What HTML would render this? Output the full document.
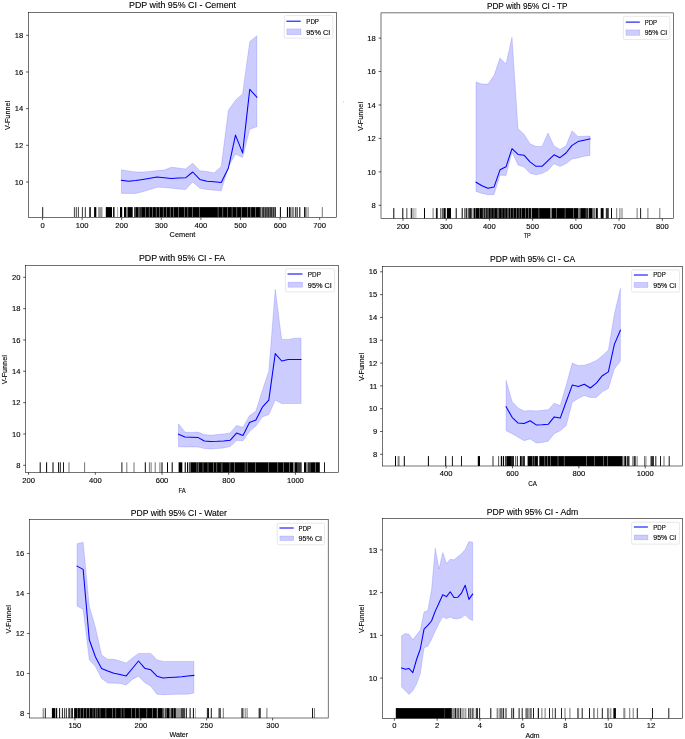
<!DOCTYPE html>
<html><head><meta charset="utf-8"><title>PDP with 95% CI</title>
<style>
html,body{margin:0;padding:0;background:#fff;}
body{width:685px;height:739px;overflow:hidden;}
svg{display:block;}
text{font-family:"Liberation Sans", sans-serif;fill:#000;stroke:#000;stroke-width:0.12px;}
.t{font-size:7.6px;}
.ti{font-size:9.6px;}
.al{font-size:7.6px;}
.lg{font-size:7px;}
</style></head><body>
<div style="will-change:transform"><svg width="685" height="739" viewBox="0 0 685 739">
<rect x="0" y="0" width="685" height="739" fill="#fff"/>
<rect x="342.8" y="100.8" width="1" height="2" fill="#ddd"/>
<g>
<path d="M121.4,169.8 L128.53,171 L135.66,172 L142.79,172 L149.92,171.5 L157.05,170.6 L164.18,170.1 L171.31,167.2 L178.44,168 L185.57,168.9 L192.7,163.3 L199.83,170.7 L206.96,171.5 L214.09,172.9 L221.22,166.6 L228.35,110.2 L235.48,100.3 L242.61,93.7 L249.74,41.6 L256.87,35.7 L256.87,126.8 L249.74,129.2 L242.61,157.6 L235.48,154 L228.35,167 L221.22,190.8 L214.09,190.2 L206.96,189.5 L199.83,188.2 L192.7,182 L185.57,189.6 L178.44,189 L171.31,188.2 L164.18,187.5 L157.05,187.3 L149.92,189.5 L142.79,191.7 L135.66,193.4 L128.53,193.4 L121.4,193.4 Z" fill="#ccccff" stroke="#0000ff" stroke-opacity="0.2" stroke-width="0.7"/>
<path d="M121.4,180.3 L128.53,181.3 L135.66,180.5 L142.79,179.4 L149.92,178.3 L157.05,177.1 L164.18,177.8 L171.31,178.5 L178.44,178.1 L185.57,177.8 L192.7,172 L199.83,179.4 L206.96,181.2 L214.09,181.8 L221.22,182.4 L228.35,168.3 L235.48,135.1 L242.61,152.9 L249.74,89.4 L256.87,97.2" fill="none" stroke="#0000ff" stroke-width="1.05" stroke-linejoin="round" stroke-linecap="square"/>
<rect x="42.2" y="207.1" width="1" height="9.9" fill="#1a1a1a"/>
<rect x="73.9" y="207.1" width="1" height="9.9" fill="#444"/>
<rect x="75.8" y="207.1" width="1" height="9.9" fill="#444"/>
<rect x="77.9" y="207.1" width="1" height="9.9" fill="#444"/>
<rect x="81.9" y="207.1" width="1" height="9.9" fill="#333"/>
<rect x="84.8" y="207.1" width="1" height="9.9" fill="#333"/>
<rect x="89.3" y="207.1" width="1.5" height="9.9" fill="#000"/>
<rect x="94.1" y="207.1" width="2.2" height="9.9" fill="#000"/>
<rect x="98.1" y="207.1" width="4.4" height="9.9" fill="#999"/>
<rect x="105.8" y="207.1" width="6.2" height="9.9" fill="#000"/>
<rect x="113.1" y="207.1" width="1.4" height="9.9" fill="#000"/>
<rect x="117.1" y="207.1" width="1" height="9.9" fill="#aaa"/>
<rect x="120" y="207.1" width="2.2" height="9.9" fill="#000"/>
<rect x="124" y="207.1" width="2.2" height="9.9" fill="#000"/>
<rect x="126.2" y="207.1" width="1.7" height="9.9" fill="#777"/>
<rect x="127.9" y="207.1" width="4.8" height="9.9" fill="#000"/>
<rect x="134" y="207.1" width="2" height="9.9" fill="#444"/>
<rect x="136" y="207.1" width="2.2" height="9.9" fill="#000"/>
<rect x="138.2" y="207.1" width="1.3" height="9.9" fill="#333"/>
<rect x="139.5" y="207.1" width="122.6" height="9.9" fill="#000"/>
<rect x="140.7" y="207.1" width="0.6" height="9.9" fill="#999"/>
<rect x="145.4" y="207.1" width="0.6" height="9.9" fill="#999"/>
<rect x="148.9" y="207.1" width="0.6" height="9.9" fill="#999"/>
<rect x="152.4" y="207.1" width="0.6" height="9.9" fill="#999"/>
<rect x="155.9" y="207.1" width="0.6" height="9.9" fill="#999"/>
<rect x="159.4" y="207.1" width="0.6" height="9.9" fill="#999"/>
<rect x="162.9" y="207.1" width="0.6" height="9.9" fill="#999"/>
<rect x="166.4" y="207.1" width="0.6" height="9.9" fill="#999"/>
<rect x="169.9" y="207.1" width="0.6" height="9.9" fill="#999"/>
<rect x="173.4" y="207.1" width="0.6" height="9.9" fill="#999"/>
<rect x="178.1" y="207.1" width="0.6" height="9.9" fill="#999"/>
<rect x="184" y="207.1" width="0.6" height="9.9" fill="#999"/>
<rect x="187.5" y="207.1" width="0.6" height="9.9" fill="#999"/>
<rect x="192.1" y="207.1" width="0.6" height="9.9" fill="#999"/>
<rect x="199.1" y="207.1" width="0.6" height="9.9" fill="#999"/>
<rect x="217.8" y="207.1" width="0.6" height="9.9" fill="#999"/>
<rect x="222.5" y="207.1" width="0.6" height="9.9" fill="#999"/>
<rect x="227.2" y="207.1" width="0.6" height="9.9" fill="#999"/>
<rect x="231.8" y="207.1" width="0.6" height="9.9" fill="#999"/>
<rect x="236.5" y="207.1" width="0.6" height="9.9" fill="#999"/>
<rect x="241.2" y="207.1" width="0.6" height="9.9" fill="#999"/>
<rect x="247" y="207.1" width="0.6" height="9.9" fill="#999"/>
<rect x="250.5" y="207.1" width="0.6" height="9.9" fill="#999"/>
<rect x="255.2" y="207.1" width="0.6" height="9.9" fill="#999"/>
<rect x="259.9" y="207.1" width="0.6" height="9.9" fill="#999"/>
<rect x="261.05" y="207.1" width="0.7" height="9.9" fill="#ddd"/>
<rect x="262.1" y="207.1" width="13.9" height="9.9" fill="#333"/>
<rect x="264.2" y="207.1" width="0.6" height="9.9" fill="#999"/>
<rect x="266.7" y="207.1" width="0.6" height="9.9" fill="#999"/>
<rect x="269.5" y="207.1" width="0.6" height="9.9" fill="#999"/>
<rect x="272" y="207.1" width="0.6" height="9.9" fill="#999"/>
<rect x="274.3" y="207.1" width="0.6" height="9.9" fill="#999"/>
<rect x="279.9" y="207.1" width="1" height="9.9" fill="#000"/>
<rect x="286.9" y="207.1" width="1.2" height="9.9" fill="#000"/>
<rect x="289.1" y="207.1" width="1.5" height="9.9" fill="#000"/>
<rect x="291.3" y="207.1" width="2.9" height="9.9" fill="#888"/>
<rect x="295.2" y="207.1" width="1" height="9.9" fill="#1a1a1a"/>
<rect x="296.7" y="207.1" width="1" height="9.9" fill="#1a1a1a"/>
<rect x="299.3" y="207.1" width="1" height="9.9" fill="#000"/>
<rect x="304" y="207.1" width="1" height="9.9" fill="#1a1a1a"/>
<rect x="305.4" y="207.1" width="1" height="9.9" fill="#1a1a1a"/>
<rect x="307.6" y="207.1" width="1" height="9.9" fill="#777"/>
<rect x="321.8" y="207.1" width="1" height="9.9" fill="#777"/>
<rect x="28.5" y="12.5" width="308" height="205" fill="none" stroke="#000" stroke-width="0.55"/>
<line x1="42.5" y1="217.5" x2="42.5" y2="219.9" stroke="#000" stroke-width="0.65"/>
<text x="42.5" y="227.7" text-anchor="middle" class="t">0</text>
<line x1="82.1" y1="217.5" x2="82.1" y2="219.9" stroke="#000" stroke-width="0.65"/>
<text x="82.1" y="227.7" text-anchor="middle" class="t">100</text>
<line x1="121.7" y1="217.5" x2="121.7" y2="219.9" stroke="#000" stroke-width="0.65"/>
<text x="121.7" y="227.7" text-anchor="middle" class="t">200</text>
<line x1="161.3" y1="217.5" x2="161.3" y2="219.9" stroke="#000" stroke-width="0.65"/>
<text x="161.3" y="227.7" text-anchor="middle" class="t">300</text>
<line x1="200.9" y1="217.5" x2="200.9" y2="219.9" stroke="#000" stroke-width="0.65"/>
<text x="200.9" y="227.7" text-anchor="middle" class="t">400</text>
<line x1="240.5" y1="217.5" x2="240.5" y2="219.9" stroke="#000" stroke-width="0.65"/>
<text x="240.5" y="227.7" text-anchor="middle" class="t">500</text>
<line x1="280.1" y1="217.5" x2="280.1" y2="219.9" stroke="#000" stroke-width="0.65"/>
<text x="280.1" y="227.7" text-anchor="middle" class="t">600</text>
<line x1="319.7" y1="217.5" x2="319.7" y2="219.9" stroke="#000" stroke-width="0.65"/>
<text x="319.7" y="227.7" text-anchor="middle" class="t">700</text>
<line x1="26.1" y1="182" x2="28.5" y2="182" stroke="#000" stroke-width="0.65"/>
<text x="23.3" y="184.65" text-anchor="end" class="t">10</text>
<line x1="26.1" y1="145.32" x2="28.5" y2="145.32" stroke="#000" stroke-width="0.65"/>
<text x="23.3" y="147.97" text-anchor="end" class="t">12</text>
<line x1="26.1" y1="108.65" x2="28.5" y2="108.65" stroke="#000" stroke-width="0.65"/>
<text x="23.3" y="111.3" text-anchor="end" class="t">14</text>
<line x1="26.1" y1="71.98" x2="28.5" y2="71.98" stroke="#000" stroke-width="0.65"/>
<text x="23.3" y="74.63" text-anchor="end" class="t">16</text>
<line x1="26.1" y1="35.3" x2="28.5" y2="35.3" stroke="#000" stroke-width="0.65"/>
<text x="23.3" y="37.95" text-anchor="end" class="t">18</text>
<text x="182.5" y="8" text-anchor="middle" class="ti" textLength="107" lengthAdjust="spacingAndGlyphs">PDP with 95% CI - Cement</text>
<text x="182.5" y="236.9" text-anchor="middle" class="al" textLength="25.8" lengthAdjust="spacingAndGlyphs">Cement</text>
<text transform="translate(10,115.4) rotate(-90)" x="0" y="0" text-anchor="middle" class="al" textLength="29" lengthAdjust="spacingAndGlyphs">V-Funnel</text>
<rect x="284.3" y="15.6" width="48.5" height="22.5" rx="1.5" fill="#fff" fill-opacity="0.8" stroke="#d6d6d6" stroke-width="0.6"/>
<line x1="286.3" y1="21.2" x2="300.7" y2="21.2" stroke="#0000ff" stroke-width="1.05"/>
<text x="306.3" y="23.8" class="lg" textLength="12.7" lengthAdjust="spacingAndGlyphs">PDP</text>
<rect x="286.9" y="28.9" width="14" height="5.8" fill="#ccccff" stroke="#0000ff" stroke-opacity="0.2" stroke-width="0.6"/>
<text x="306.3" y="34.6" class="lg" textLength="24" lengthAdjust="spacingAndGlyphs">95% CI</text>
</g>
<g>
<path d="M476,82 L482,84.1 L488,84.1 L494,75.6 L500,58 L506,64 L512,37.2 L518,128.6 L524,134.2 L530,143.8 L536,146.5 L542,146.5 L548,133 L554,146 L560,149.4 L566,145.8 L572,130.8 L578,136.5 L584,136.2 L590,136 L590,155.5 L584,156.3 L578,157.9 L572,159 L566,163.8 L560,166.5 L554,163.8 L548,170.3 L542,173.6 L536,174.7 L530,173.3 L524,167.1 L518,164.9 L512,152 L506,175.4 L500,175.2 L494,194.7 L488,194.7 L482,193.4 L476,191.4 Z" fill="#ccccff" stroke="#0000ff" stroke-opacity="0.2" stroke-width="0.7"/>
<path d="M476,182.2 L482,185.8 L488,188.2 L494,187.1 L500,169.8 L506,166.8 L512,148.7 L518,154.4 L524,155.2 L530,161.9 L536,166.3 L542,166.3 L548,160.6 L554,154.8 L560,157.7 L566,153 L572,145.4 L578,141.6 L584,140.3 L590,138.9" fill="none" stroke="#0000ff" stroke-width="1.05" stroke-linejoin="round" stroke-linecap="square"/>
<rect x="393.3" y="208.1" width="1" height="10.3" fill="#000"/>
<rect x="402.3" y="208.1" width="1" height="10.3" fill="#000"/>
<rect x="406.1" y="208.1" width="1" height="10.3" fill="#777"/>
<rect x="406.9" y="208.1" width="1" height="10.3" fill="#bbb"/>
<rect x="410.8" y="208.1" width="1" height="10.3" fill="#000"/>
<rect x="412.5" y="208.1" width="1" height="10.3" fill="#777"/>
<rect x="414.3" y="208.1" width="1" height="10.3" fill="#bbb"/>
<rect x="415.4" y="208.1" width="1" height="10.3" fill="#bbb"/>
<rect x="424" y="208.1" width="1" height="10.3" fill="#000"/>
<rect x="432.6" y="208.1" width="1" height="10.3" fill="#777"/>
<rect x="435.9" y="208.1" width="1" height="10.3" fill="#000"/>
<rect x="436.7" y="208.1" width="1" height="10.3" fill="#1a1a1a"/>
<rect x="440" y="208.1" width="1" height="10.3" fill="#777"/>
<rect x="441.7" y="208.1" width="1" height="10.3" fill="#1a1a1a"/>
<rect x="443.4" y="208.1" width="2.3" height="10.3" fill="#000"/>
<rect x="446.9" y="208.1" width="4.1" height="10.3" fill="#000"/>
<rect x="455.7" y="208.1" width="1" height="10.3" fill="#000"/>
<rect x="461.7" y="208.1" width="1" height="10.3" fill="#000"/>
<rect x="464.4" y="208.1" width="1" height="10.3" fill="#1a1a1a"/>
<rect x="465.9" y="208.1" width="1" height="10.3" fill="#1a1a1a"/>
<rect x="467.7" y="208.1" width="1" height="10.3" fill="#1a1a1a"/>
<rect x="469.1" y="208.1" width="1" height="10.3" fill="#1a1a1a"/>
<rect x="470.1" y="208.1" width="1" height="10.3" fill="#000"/>
<rect x="471.3" y="208.1" width="1" height="10.3" fill="#1a1a1a"/>
<rect x="473.5" y="208.1" width="77" height="10.3" fill="#000"/>
<rect x="475" y="208.1" width="0.6" height="10.3" fill="#999"/>
<rect x="479" y="208.1" width="0.6" height="10.3" fill="#999"/>
<rect x="481.7" y="208.1" width="5.8" height="10.3" fill="#222"/>
<rect x="483.2" y="208.1" width="0.6" height="10.3" fill="#999"/>
<rect x="485.2" y="208.1" width="0.6" height="10.3" fill="#999"/>
<rect x="487.5" y="208.1" width="1.2" height="10.3" fill="#666"/>
<rect x="490.7" y="208.1" width="0.6" height="10.3" fill="#999"/>
<rect x="493.7" y="208.1" width="0.6" height="10.3" fill="#999"/>
<rect x="496.9" y="208.1" width="2.3" height="10.3" fill="#555"/>
<rect x="501.7" y="208.1" width="0.6" height="10.3" fill="#999"/>
<rect x="504.7" y="208.1" width="0.6" height="10.3" fill="#999"/>
<rect x="507.65" y="208.1" width="0.7" height="10.3" fill="#ddd"/>
<rect x="510" y="208.1" width="0.6" height="10.3" fill="#999"/>
<rect x="512.9" y="208.1" width="0.6" height="10.3" fill="#999"/>
<rect x="516.4" y="208.1" width="0.6" height="10.3" fill="#999"/>
<rect x="518.8" y="208.1" width="0.6" height="10.3" fill="#999"/>
<rect x="521.1" y="208.1" width="0.6" height="10.3" fill="#999"/>
<rect x="525.2" y="208.1" width="0.6" height="10.3" fill="#999"/>
<rect x="528.1" y="208.1" width="0.6" height="10.3" fill="#999"/>
<rect x="530.95" y="208.1" width="0.7" height="10.3" fill="#ddd"/>
<rect x="538.6" y="208.1" width="0.6" height="10.3" fill="#999"/>
<rect x="550.5" y="208.1" width="1.2" height="10.3" fill="#888"/>
<rect x="551.7" y="208.1" width="26.8" height="10.3" fill="#000"/>
<rect x="556.1" y="208.1" width="0.6" height="10.3" fill="#999"/>
<rect x="564.8" y="208.1" width="0.6" height="10.3" fill="#999"/>
<rect x="573" y="208.1" width="0.6" height="10.3" fill="#999"/>
<rect x="578.5" y="208.1" width="1.8" height="10.3" fill="#777"/>
<rect x="580.3" y="208.1" width="7.6" height="10.3" fill="#000"/>
<rect x="585.8" y="208.1" width="0.6" height="10.3" fill="#999"/>
<rect x="587.9" y="208.1" width="1.1" height="10.3" fill="#999"/>
<rect x="589" y="208.1" width="3.6" height="10.3" fill="#000"/>
<rect x="593.1" y="208.1" width="2.4" height="10.3" fill="#777"/>
<rect x="596" y="208.1" width="1.8" height="10.3" fill="#000"/>
<rect x="600.7" y="208.1" width="2.9" height="10.3" fill="#000"/>
<rect x="605.8" y="208.1" width="3" height="10.3" fill="#333"/>
<rect x="611" y="208.1" width="1" height="10.3" fill="#000"/>
<rect x="616.2" y="208.1" width="1" height="10.3" fill="#777"/>
<rect x="619.4" y="208.1" width="1" height="10.3" fill="#777"/>
<rect x="621.5" y="208.1" width="1" height="10.3" fill="#777"/>
<rect x="636.6" y="208.1" width="1" height="10.3" fill="#777"/>
<rect x="640.1" y="208.1" width="1" height="10.3" fill="#1a1a1a"/>
<rect x="647.4" y="208.1" width="1" height="10.3" fill="#777"/>
<rect x="659.3" y="208.1" width="1" height="10.3" fill="#777"/>
<rect x="381" y="12.9" width="292.5" height="205.5" fill="none" stroke="#000" stroke-width="0.55"/>
<line x1="403" y1="218.4" x2="403" y2="220.8" stroke="#000" stroke-width="0.65"/>
<text x="403" y="228.5" text-anchor="middle" class="t">200</text>
<line x1="446.22" y1="218.4" x2="446.22" y2="220.8" stroke="#000" stroke-width="0.65"/>
<text x="446.22" y="228.5" text-anchor="middle" class="t">300</text>
<line x1="489.43" y1="218.4" x2="489.43" y2="220.8" stroke="#000" stroke-width="0.65"/>
<text x="489.43" y="228.5" text-anchor="middle" class="t">400</text>
<line x1="532.65" y1="218.4" x2="532.65" y2="220.8" stroke="#000" stroke-width="0.65"/>
<text x="532.65" y="228.5" text-anchor="middle" class="t">500</text>
<line x1="575.87" y1="218.4" x2="575.87" y2="220.8" stroke="#000" stroke-width="0.65"/>
<text x="575.87" y="228.5" text-anchor="middle" class="t">600</text>
<line x1="619.08" y1="218.4" x2="619.08" y2="220.8" stroke="#000" stroke-width="0.65"/>
<text x="619.08" y="228.5" text-anchor="middle" class="t">700</text>
<line x1="662.3" y1="218.4" x2="662.3" y2="220.8" stroke="#000" stroke-width="0.65"/>
<text x="662.3" y="228.5" text-anchor="middle" class="t">800</text>
<line x1="378.6" y1="205.3" x2="381" y2="205.3" stroke="#000" stroke-width="0.65"/>
<text x="375.8" y="207.95" text-anchor="end" class="t">8</text>
<line x1="378.6" y1="171.86" x2="381" y2="171.86" stroke="#000" stroke-width="0.65"/>
<text x="375.8" y="174.51" text-anchor="end" class="t">10</text>
<line x1="378.6" y1="138.42" x2="381" y2="138.42" stroke="#000" stroke-width="0.65"/>
<text x="375.8" y="141.07" text-anchor="end" class="t">12</text>
<line x1="378.6" y1="104.98" x2="381" y2="104.98" stroke="#000" stroke-width="0.65"/>
<text x="375.8" y="107.63" text-anchor="end" class="t">14</text>
<line x1="378.6" y1="71.54" x2="381" y2="71.54" stroke="#000" stroke-width="0.65"/>
<text x="375.8" y="74.19" text-anchor="end" class="t">16</text>
<line x1="378.6" y1="38.1" x2="381" y2="38.1" stroke="#000" stroke-width="0.65"/>
<text x="375.8" y="40.75" text-anchor="end" class="t">18</text>
<text x="527.25" y="8.8" text-anchor="middle" class="ti" textLength="80.6" lengthAdjust="spacingAndGlyphs">PDP with 95% CI - TP</text>
<text x="527.25" y="238.3" text-anchor="middle" class="al" textLength="7.2" lengthAdjust="spacingAndGlyphs">TP</text>
<text transform="translate(362.8,116.5) rotate(-90)" x="0" y="0" text-anchor="middle" class="al" textLength="29" lengthAdjust="spacingAndGlyphs">V-Funnel</text>
<rect x="623.3" y="16.3" width="46.5" height="23.1" rx="1.5" fill="#fff" fill-opacity="0.8" stroke="#d6d6d6" stroke-width="0.6"/>
<line x1="625.8" y1="22.1" x2="639.8" y2="22.1" stroke="#0000ff" stroke-width="1.05"/>
<text x="644.7" y="24.5" class="lg" textLength="12.3" lengthAdjust="spacingAndGlyphs">PDP</text>
<rect x="626" y="29.9" width="13.8" height="5.4" fill="#ccccff" stroke="#0000ff" stroke-opacity="0.2" stroke-width="0.6"/>
<text x="644.7" y="35.1" class="lg" textLength="22.5" lengthAdjust="spacingAndGlyphs">95% CI</text>
</g>
<g>
<path d="M178.5,423.8 L184.95,432.1 L191.4,432.5 L197.85,432.1 L204.3,434.6 L210.75,435.2 L217.2,434.6 L223.65,433.9 L230.1,433.1 L236.55,425.4 L243,427.2 L249.45,415.7 L255.9,411.1 L262.35,390.4 L268.8,370.9 L275.25,289.2 L281.7,339.4 L288.15,339.4 L294.6,338.2 L301.05,338.2 L301.05,403.5 L294.6,403.5 L288.15,403.5 L281.7,403.5 L275.25,400.1 L268.8,414.6 L262.35,416.9 L255.9,426.1 L249.45,431.5 L243,440.7 L236.55,440.6 L230.1,446.5 L223.65,448 L217.2,448.6 L210.75,448.9 L204.3,448.6 L197.85,447 L191.4,447 L184.95,447 L178.5,446.7 Z" fill="#ccccff" stroke="#0000ff" stroke-opacity="0.2" stroke-width="0.7"/>
<path d="M178.5,434.3 L184.95,437 L191.4,437.2 L197.85,437.4 L204.3,441 L210.75,441.5 L217.2,441.3 L223.65,440.9 L230.1,440.3 L236.55,433.1 L243,435.4 L249.45,422.5 L255.9,419.9 L262.35,407.2 L268.8,400.1 L275.25,353.6 L281.7,361 L288.15,359.4 L294.6,359.4 L301.05,359.4" fill="none" stroke="#0000ff" stroke-width="1.05" stroke-linejoin="round" stroke-linecap="square"/>
<rect x="39.7" y="462.3" width="1" height="10.1" fill="#000"/>
<rect x="46.1" y="462.3" width="1" height="10.1" fill="#000"/>
<rect x="52.5" y="462.3" width="1" height="10.1" fill="#000"/>
<rect x="58" y="462.3" width="1" height="10.1" fill="#1a1a1a"/>
<rect x="59.8" y="462.3" width="1" height="10.1" fill="#1a1a1a"/>
<rect x="63" y="462.3" width="1" height="10.1" fill="#1a1a1a"/>
<rect x="68.5" y="462.3" width="1" height="10.1" fill="#777"/>
<rect x="84.1" y="462.3" width="1" height="10.1" fill="#777"/>
<rect x="121.4" y="462.3" width="1" height="10.1" fill="#1a1a1a"/>
<rect x="126.3" y="462.3" width="1" height="10.1" fill="#777"/>
<rect x="133.5" y="462.3" width="1" height="10.1" fill="#777"/>
<rect x="144.8" y="462.3" width="1" height="10.1" fill="#000"/>
<rect x="148.9" y="462.3" width="1" height="10.1" fill="#777"/>
<rect x="150.6" y="462.3" width="1" height="10.1" fill="#777"/>
<rect x="154.7" y="462.3" width="1" height="10.1" fill="#777"/>
<rect x="159.4" y="462.3" width="1" height="10.1" fill="#777"/>
<rect x="161.5" y="462.3" width="1" height="10.1" fill="#000"/>
<rect x="167" y="462.3" width="1" height="10.1" fill="#000"/>
<rect x="171.7" y="462.3" width="1" height="10.1" fill="#000"/>
<rect x="178.6" y="462.3" width="3.7" height="10.1" fill="#000"/>
<rect x="184.7" y="462.3" width="1.1" height="10.1" fill="#000"/>
<rect x="187" y="462.3" width="1.2" height="10.1" fill="#000"/>
<rect x="189.3" y="462.3" width="104.2" height="10.1" fill="#000"/>
<rect x="190.3" y="462.3" width="0.6" height="10.1" fill="#999"/>
<rect x="196.6" y="462.3" width="0.6" height="10.1" fill="#999"/>
<rect x="198.1" y="462.3" width="0.6" height="10.1" fill="#999"/>
<rect x="202.7" y="462.3" width="0.6" height="10.1" fill="#999"/>
<rect x="207.7" y="462.3" width="0.6" height="10.1" fill="#999"/>
<rect x="213.2" y="462.3" width="0.6" height="10.1" fill="#999"/>
<rect x="216.5" y="462.3" width="0.6" height="10.1" fill="#999"/>
<rect x="229.6" y="462.3" width="0.6" height="10.1" fill="#999"/>
<rect x="234.3" y="462.3" width="0.6" height="10.1" fill="#999"/>
<rect x="244.8" y="462.3" width="0.6" height="10.1" fill="#999"/>
<rect x="255.3" y="462.3" width="0.6" height="10.1" fill="#999"/>
<rect x="268.2" y="462.3" width="0.6" height="10.1" fill="#999"/>
<rect x="277.5" y="462.3" width="0.6" height="10.1" fill="#999"/>
<rect x="289.2" y="462.3" width="0.6" height="10.1" fill="#999"/>
<rect x="220.9" y="462.3" width="1.7" height="10.1" fill="#444"/>
<rect x="246.9" y="462.3" width="0.6" height="10.1" fill="#999"/>
<rect x="283.3" y="462.3" width="0.6" height="10.1" fill="#999"/>
<rect x="293.5" y="462.3" width="1.2" height="10.1" fill="#888"/>
<rect x="294.7" y="462.3" width="2.3" height="10.1" fill="#000"/>
<rect x="297" y="462.3" width="4.7" height="10.1" fill="#333"/>
<rect x="304" y="462.3" width="2.4" height="10.1" fill="#000"/>
<rect x="306.4" y="462.3" width="1.2" height="10.1" fill="#888"/>
<rect x="307.6" y="462.3" width="3.4" height="10.1" fill="#333"/>
<rect x="311" y="462.3" width="8.8" height="10.1" fill="#000"/>
<rect x="315.4" y="462.3" width="0.6" height="10.1" fill="#999"/>
<rect x="324" y="462.3" width="1" height="10.1" fill="#1a1a1a"/>
<rect x="25.6" y="265.5" width="312.9" height="206.9" fill="none" stroke="#000" stroke-width="0.55"/>
<line x1="28.6" y1="472.4" x2="28.6" y2="474.8" stroke="#000" stroke-width="0.65"/>
<text x="28.6" y="482.7" text-anchor="middle" class="t">200</text>
<line x1="95.3" y1="472.4" x2="95.3" y2="474.8" stroke="#000" stroke-width="0.65"/>
<text x="95.3" y="482.7" text-anchor="middle" class="t">400</text>
<line x1="162" y1="472.4" x2="162" y2="474.8" stroke="#000" stroke-width="0.65"/>
<text x="162" y="482.7" text-anchor="middle" class="t">600</text>
<line x1="228.7" y1="472.4" x2="228.7" y2="474.8" stroke="#000" stroke-width="0.65"/>
<text x="228.7" y="482.7" text-anchor="middle" class="t">800</text>
<line x1="295.4" y1="472.4" x2="295.4" y2="474.8" stroke="#000" stroke-width="0.65"/>
<text x="295.4" y="482.7" text-anchor="middle" class="t">1000</text>
<line x1="23.2" y1="465.3" x2="25.6" y2="465.3" stroke="#000" stroke-width="0.65"/>
<text x="20.4" y="467.95" text-anchor="end" class="t">8</text>
<line x1="23.2" y1="433.97" x2="25.6" y2="433.97" stroke="#000" stroke-width="0.65"/>
<text x="20.4" y="436.62" text-anchor="end" class="t">10</text>
<line x1="23.2" y1="402.63" x2="25.6" y2="402.63" stroke="#000" stroke-width="0.65"/>
<text x="20.4" y="405.28" text-anchor="end" class="t">12</text>
<line x1="23.2" y1="371.3" x2="25.6" y2="371.3" stroke="#000" stroke-width="0.65"/>
<text x="20.4" y="373.95" text-anchor="end" class="t">14</text>
<line x1="23.2" y1="339.97" x2="25.6" y2="339.97" stroke="#000" stroke-width="0.65"/>
<text x="20.4" y="342.62" text-anchor="end" class="t">16</text>
<line x1="23.2" y1="308.63" x2="25.6" y2="308.63" stroke="#000" stroke-width="0.65"/>
<text x="20.4" y="311.28" text-anchor="end" class="t">18</text>
<line x1="23.2" y1="277.3" x2="25.6" y2="277.3" stroke="#000" stroke-width="0.65"/>
<text x="20.4" y="279.95" text-anchor="end" class="t">20</text>
<text x="182.05" y="260.8" text-anchor="middle" class="ti" textLength="86.3" lengthAdjust="spacingAndGlyphs">PDP with 95% CI - FA</text>
<text x="182.05" y="492.9" text-anchor="middle" class="al" textLength="7.2" lengthAdjust="spacingAndGlyphs">FA</text>
<text transform="translate(7,369.7) rotate(-90)" x="0" y="0" text-anchor="middle" class="al" textLength="29" lengthAdjust="spacingAndGlyphs">V-Funnel</text>
<rect x="285.3" y="268.8" width="49.3" height="23" rx="1.5" fill="#fff" fill-opacity="0.8" stroke="#d6d6d6" stroke-width="0.6"/>
<line x1="287.5" y1="274" x2="302.5" y2="274" stroke="#0000ff" stroke-width="1.05"/>
<text x="307.8" y="276.6" class="lg" textLength="13.1" lengthAdjust="spacingAndGlyphs">PDP</text>
<rect x="288" y="282.2" width="14.5" height="5" fill="#ccccff" stroke="#0000ff" stroke-opacity="0.2" stroke-width="0.6"/>
<text x="307.8" y="287.6" class="lg" textLength="24.1" lengthAdjust="spacingAndGlyphs">95% CI</text>
</g>
<g>
<path d="M506.1,380.5 L512.12,401.5 L518.13,408 L524.14,410.9 L530.16,410.6 L536.18,410.9 L542.19,410.3 L548.21,409.7 L554.22,403.3 L560.24,405.6 L566.25,385 L572.26,363 L578.28,365.6 L584.3,365.2 L590.31,363.3 L596.33,360.5 L602.34,355.8 L608.36,350.1 L614.37,314.1 L620.38,288.5 L620.38,361.1 L614.37,369 L608.36,388.4 L602.34,391.8 L596.33,397.4 L590.31,397.4 L584.3,395.6 L578.28,398.4 L572.26,402.2 L566.25,425.5 L560.24,430.7 L554.22,433.7 L548.21,441.2 L542.19,442.4 L536.18,443 L530.16,438.9 L524.14,440.7 L518.13,437.2 L512.12,433.7 L506.1,430.7 Z" fill="#ccccff" stroke="#0000ff" stroke-opacity="0.2" stroke-width="0.7"/>
<path d="M506.1,406.8 L512.12,417.3 L518.13,423.1 L524.14,423.5 L530.16,420.8 L536.18,424.9 L542.19,424.7 L548.21,424.3 L554.22,416.9 L560.24,418.1 L566.25,401.5 L572.26,385.1 L578.28,386.5 L584.3,384.2 L590.31,388 L596.33,383.2 L602.34,375.7 L608.36,371.9 L614.37,344.4 L620.38,330.2" fill="none" stroke="#0000ff" stroke-width="1.05" stroke-linejoin="round" stroke-linecap="square"/>
<rect x="395" y="456.1" width="1" height="9.9" fill="#000"/>
<rect x="397.6" y="456.1" width="2" height="9.9" fill="#888"/>
<rect x="403.8" y="456.1" width="1" height="9.9" fill="#000"/>
<rect x="427.9" y="456.1" width="1" height="9.9" fill="#000"/>
<rect x="445.2" y="456.1" width="1" height="9.9" fill="#000"/>
<rect x="451.9" y="456.1" width="1" height="9.9" fill="#1a1a1a"/>
<rect x="461" y="456.1" width="1" height="9.9" fill="#1a1a1a"/>
<rect x="477.8" y="456.1" width="2.2" height="9.9" fill="#000"/>
<rect x="492.5" y="456.1" width="1" height="9.9" fill="#333"/>
<rect x="498.1" y="456.1" width="1" height="9.9" fill="#555"/>
<rect x="500.8" y="456.1" width="1.2" height="9.9" fill="#000"/>
<rect x="502.8" y="456.1" width="1.2" height="9.9" fill="#000"/>
<rect x="504.9" y="456.1" width="2" height="9.9" fill="#444"/>
<rect x="506.9" y="456.1" width="4.1" height="9.9" fill="#000"/>
<rect x="511" y="456.1" width="3" height="9.9" fill="#222"/>
<rect x="515" y="456.1" width="1" height="9.9" fill="#666"/>
<rect x="516.8" y="456.1" width="1" height="9.9" fill="#111"/>
<rect x="519.9" y="456.1" width="1.9" height="9.9" fill="#000"/>
<rect x="521.8" y="456.1" width="1.4" height="9.9" fill="#666"/>
<rect x="523.2" y="456.1" width="1.6" height="9.9" fill="#000"/>
<rect x="527.6" y="456.1" width="95.1" height="9.9" fill="#000"/>
<rect x="532.1" y="456.1" width="0.6" height="9.9" fill="#999"/>
<rect x="533.9" y="456.1" width="0.6" height="9.9" fill="#999"/>
<rect x="537.9" y="456.1" width="1.4" height="9.9" fill="#eee"/>
<rect x="544.5" y="456.1" width="0.6" height="9.9" fill="#999"/>
<rect x="547.1" y="456.1" width="0.6" height="9.9" fill="#999"/>
<rect x="550.4" y="456.1" width="0.6" height="9.9" fill="#999"/>
<rect x="557.7" y="456.1" width="0.6" height="9.9" fill="#999"/>
<rect x="563.9" y="456.1" width="0.6" height="9.9" fill="#999"/>
<rect x="586.2" y="456.1" width="0.6" height="9.9" fill="#999"/>
<rect x="594.3" y="456.1" width="0.6" height="9.9" fill="#999"/>
<rect x="603.1" y="456.1" width="0.6" height="9.9" fill="#999"/>
<rect x="607.2" y="456.1" width="0.6" height="9.9" fill="#999"/>
<rect x="622.6" y="456.1" width="1" height="9.9" fill="#777"/>
<rect x="624.3" y="456.1" width="1.7" height="9.9" fill="#000"/>
<rect x="626.6" y="456.1" width="2.9" height="9.9" fill="#333"/>
<rect x="632.4" y="456.1" width="1.2" height="9.9" fill="#555"/>
<rect x="634.2" y="456.1" width="1.4" height="9.9" fill="#000"/>
<rect x="636.6" y="456.1" width="1" height="9.9" fill="#777"/>
<rect x="644" y="456.1" width="1" height="9.9" fill="#777"/>
<rect x="645.4" y="456.1" width="1" height="9.9" fill="#777"/>
<rect x="650.5" y="456.1" width="3.5" height="9.9" fill="#333"/>
<rect x="655.3" y="456.1" width="1" height="9.9" fill="#1a1a1a"/>
<rect x="660" y="456.1" width="1" height="9.9" fill="#1a1a1a"/>
<rect x="663.4" y="456.1" width="1.2" height="9.9" fill="#888"/>
<rect x="668.7" y="456.1" width="1" height="9.9" fill="#1a1a1a"/>
<rect x="382.5" y="266.6" width="300.2" height="199.4" fill="none" stroke="#000" stroke-width="0.55"/>
<line x1="446.1" y1="466" x2="446.1" y2="468.4" stroke="#000" stroke-width="0.65"/>
<text x="446.1" y="475.9" text-anchor="middle" class="t">400</text>
<line x1="512.47" y1="466" x2="512.47" y2="468.4" stroke="#000" stroke-width="0.65"/>
<text x="512.47" y="475.9" text-anchor="middle" class="t">600</text>
<line x1="578.83" y1="466" x2="578.83" y2="468.4" stroke="#000" stroke-width="0.65"/>
<text x="578.83" y="475.9" text-anchor="middle" class="t">800</text>
<line x1="645.2" y1="466" x2="645.2" y2="468.4" stroke="#000" stroke-width="0.65"/>
<text x="645.2" y="475.9" text-anchor="middle" class="t">1000</text>
<line x1="380.1" y1="454.3" x2="382.5" y2="454.3" stroke="#000" stroke-width="0.65"/>
<text x="377.3" y="456.95" text-anchor="end" class="t">8</text>
<line x1="380.1" y1="431.49" x2="382.5" y2="431.49" stroke="#000" stroke-width="0.65"/>
<text x="377.3" y="434.14" text-anchor="end" class="t">9</text>
<line x1="380.1" y1="408.68" x2="382.5" y2="408.68" stroke="#000" stroke-width="0.65"/>
<text x="377.3" y="411.32" text-anchor="end" class="t">10</text>
<line x1="380.1" y1="385.86" x2="382.5" y2="385.86" stroke="#000" stroke-width="0.65"/>
<text x="377.3" y="388.51" text-anchor="end" class="t">11</text>
<line x1="380.1" y1="363.05" x2="382.5" y2="363.05" stroke="#000" stroke-width="0.65"/>
<text x="377.3" y="365.7" text-anchor="end" class="t">12</text>
<line x1="380.1" y1="340.24" x2="382.5" y2="340.24" stroke="#000" stroke-width="0.65"/>
<text x="377.3" y="342.89" text-anchor="end" class="t">13</text>
<line x1="380.1" y1="317.43" x2="382.5" y2="317.43" stroke="#000" stroke-width="0.65"/>
<text x="377.3" y="320.07" text-anchor="end" class="t">14</text>
<line x1="380.1" y1="294.61" x2="382.5" y2="294.61" stroke="#000" stroke-width="0.65"/>
<text x="377.3" y="297.26" text-anchor="end" class="t">15</text>
<line x1="380.1" y1="271.8" x2="382.5" y2="271.8" stroke="#000" stroke-width="0.65"/>
<text x="377.3" y="274.45" text-anchor="end" class="t">16</text>
<text x="532.6" y="262" text-anchor="middle" class="ti" textLength="85" lengthAdjust="spacingAndGlyphs">PDP with 95% CI - CA</text>
<text x="532.6" y="485.8" text-anchor="middle" class="al" textLength="8.7" lengthAdjust="spacingAndGlyphs">CA</text>
<text transform="translate(363.7,367) rotate(-90)" x="0" y="0" text-anchor="middle" class="al" textLength="28" lengthAdjust="spacingAndGlyphs">V-Funnel</text>
<rect x="631.6" y="270" width="48" height="22.1" rx="1.5" fill="#fff" fill-opacity="0.8" stroke="#d6d6d6" stroke-width="0.6"/>
<line x1="633.9" y1="275" x2="647.9" y2="275" stroke="#0000ff" stroke-width="1.05"/>
<text x="653.3" y="277.3" class="lg" textLength="12.5" lengthAdjust="spacingAndGlyphs">PDP</text>
<rect x="634.2" y="282.4" width="13.7" height="5.1" fill="#ccccff" stroke="#0000ff" stroke-opacity="0.2" stroke-width="0.6"/>
<text x="653.3" y="287.8" class="lg" textLength="23" lengthAdjust="spacingAndGlyphs">95% CI</text>
</g>
<g>
<path d="M77,543.8 L83.15,542.3 L89.3,606 L95.45,627.4 L101.6,655 L107.75,659.2 L113.9,659.3 L120.05,661 L126.2,663 L132.35,658 L138.5,653.4 L144.65,653.4 L150.8,653.4 L156.95,659.8 L163.1,661.4 L169.25,661.4 L175.4,661.4 L181.55,661.4 L187.7,661.4 L193.85,661.4 L193.85,693.1 L187.7,694.2 L181.55,694.2 L175.4,694.2 L169.25,694.5 L163.1,694.7 L156.95,694.2 L150.8,686.2 L144.65,682.6 L138.5,676.2 L132.35,679.4 L126.2,685 L120.05,683.4 L113.9,683.2 L107.75,683 L101.6,678.5 L95.45,666.6 L89.3,659.8 L83.15,609.4 L77,606 Z" fill="#ccccff" stroke="#0000ff" stroke-opacity="0.2" stroke-width="0.7"/>
<path d="M77,566.1 L83.15,569.4 L89.3,639.8 L95.45,657 L101.6,668.4 L107.75,671 L113.9,673.3 L120.05,674.6 L126.2,675.9 L132.35,668.5 L138.5,661 L144.65,668.2 L150.8,669.8 L156.95,676.2 L163.1,678.1 L169.25,677.5 L175.4,677.2 L181.55,676.8 L187.7,675.9 L193.85,675.4" fill="none" stroke="#0000ff" stroke-width="1.05" stroke-linejoin="round" stroke-linecap="square"/>
<rect x="42.7" y="708.1" width="1" height="9.9" fill="#777"/>
<rect x="44.8" y="708.1" width="1" height="9.9" fill="#1a1a1a"/>
<rect x="51.9" y="708.1" width="5.3" height="9.9" fill="#000"/>
<rect x="55.05" y="708.1" width="0.7" height="9.9" fill="#ddd"/>
<rect x="59" y="708.1" width="1.1" height="9.9" fill="#222"/>
<rect x="61.9" y="708.1" width="1" height="9.9" fill="#1a1a1a"/>
<rect x="64.2" y="708.1" width="0.9" height="9.9" fill="#222"/>
<rect x="65.9" y="708.1" width="0.9" height="9.9" fill="#222"/>
<rect x="68.4" y="708.1" width="1" height="9.9" fill="#1a1a1a"/>
<rect x="69.3" y="708.1" width="1" height="9.9" fill="#1a1a1a"/>
<rect x="71.2" y="708.1" width="1.8" height="9.9" fill="#222"/>
<rect x="74.1" y="708.1" width="82.8" height="9.9" fill="#000"/>
<rect x="152.3" y="708.1" width="0.6" height="9.9" fill="#999"/>
<rect x="77" y="708.1" width="0.6" height="9.9" fill="#999"/>
<rect x="79.9" y="708.1" width="0.6" height="9.9" fill="#999"/>
<rect x="83.4" y="708.1" width="0.6" height="9.9" fill="#999"/>
<rect x="86.3" y="708.1" width="0.6" height="9.9" fill="#999"/>
<rect x="89.2" y="708.1" width="0.6" height="9.9" fill="#999"/>
<rect x="92.7" y="708.1" width="0.6" height="9.9" fill="#999"/>
<rect x="95.1" y="708.1" width="0.6" height="9.9" fill="#999"/>
<rect x="96.8" y="708.1" width="0.6" height="9.9" fill="#999"/>
<rect x="99.7" y="708.1" width="0.6" height="9.9" fill="#999"/>
<rect x="105.6" y="708.1" width="0.6" height="9.9" fill="#999"/>
<rect x="112" y="708.1" width="0.6" height="9.9" fill="#999"/>
<rect x="115.5" y="708.1" width="0.6" height="9.9" fill="#999"/>
<rect x="120.8" y="708.1" width="0.6" height="9.9" fill="#999"/>
<rect x="123.7" y="708.1" width="0.6" height="9.9" fill="#999"/>
<rect x="131.3" y="708.1" width="0.6" height="9.9" fill="#999"/>
<rect x="135.4" y="708.1" width="0.6" height="9.9" fill="#999"/>
<rect x="138.9" y="708.1" width="0.6" height="9.9" fill="#999"/>
<rect x="146.5" y="708.1" width="0.6" height="9.9" fill="#999"/>
<rect x="156.9" y="708.1" width="1.1" height="9.9" fill="#888"/>
<rect x="158" y="708.1" width="4" height="9.9" fill="#000"/>
<rect x="162" y="708.1" width="1.9" height="9.9" fill="#444"/>
<rect x="163.9" y="708.1" width="1.4" height="9.9" fill="#aaa"/>
<rect x="165.3" y="708.1" width="4.4" height="9.9" fill="#000"/>
<rect x="166.1" y="708.1" width="0.6" height="9.9" fill="#999"/>
<rect x="169.7" y="708.1" width="1.5" height="9.9" fill="#888"/>
<rect x="171.2" y="708.1" width="4.7" height="9.9" fill="#000"/>
<rect x="173.1" y="708.1" width="0.6" height="9.9" fill="#999"/>
<rect x="175.9" y="708.1" width="4.8" height="9.9" fill="#999"/>
<rect x="180.7" y="708.1" width="4.3" height="9.9" fill="#444"/>
<rect x="185.8" y="708.1" width="1" height="9.9" fill="#000"/>
<rect x="189.4" y="708.1" width="1.5" height="9.9" fill="#555"/>
<rect x="192.9" y="708.1" width="1" height="9.9" fill="#000"/>
<rect x="195" y="708.1" width="1" height="9.9" fill="#bbb"/>
<rect x="206.9" y="708.1" width="1" height="9.9" fill="#1a1a1a"/>
<rect x="208" y="708.1" width="1" height="9.9" fill="#1a1a1a"/>
<rect x="210.8" y="708.1" width="1" height="9.9" fill="#1a1a1a"/>
<rect x="218.6" y="708.1" width="1" height="9.9" fill="#1a1a1a"/>
<rect x="219.7" y="708.1" width="1" height="9.9" fill="#1a1a1a"/>
<rect x="222.8" y="708.1" width="1" height="9.9" fill="#777"/>
<rect x="241.4" y="708.1" width="1" height="9.9" fill="#1a1a1a"/>
<rect x="242.4" y="708.1" width="1" height="9.9" fill="#1a1a1a"/>
<rect x="244.7" y="708.1" width="1" height="9.9" fill="#777"/>
<rect x="246.6" y="708.1" width="1" height="9.9" fill="#777"/>
<rect x="258.7" y="708.1" width="1" height="9.9" fill="#000"/>
<rect x="259.7" y="708.1" width="1" height="9.9" fill="#1a1a1a"/>
<rect x="266.4" y="708.1" width="1" height="9.9" fill="#777"/>
<rect x="312" y="708.1" width="1" height="9.9" fill="#1a1a1a"/>
<rect x="313.9" y="708.1" width="1" height="9.9" fill="#777"/>
<rect x="29.5" y="519.5" width="298.7" height="198.5" fill="none" stroke="#000" stroke-width="0.55"/>
<line x1="74.9" y1="718" x2="74.9" y2="720.4" stroke="#000" stroke-width="0.65"/>
<text x="74.9" y="727.9" text-anchor="middle" class="t">150</text>
<line x1="140.8" y1="718" x2="140.8" y2="720.4" stroke="#000" stroke-width="0.65"/>
<text x="140.8" y="727.9" text-anchor="middle" class="t">200</text>
<line x1="206.7" y1="718" x2="206.7" y2="720.4" stroke="#000" stroke-width="0.65"/>
<text x="206.7" y="727.9" text-anchor="middle" class="t">250</text>
<line x1="272.6" y1="718" x2="272.6" y2="720.4" stroke="#000" stroke-width="0.65"/>
<text x="272.6" y="727.9" text-anchor="middle" class="t">300</text>
<line x1="27.1" y1="713.5" x2="29.5" y2="713.5" stroke="#000" stroke-width="0.65"/>
<text x="24.3" y="716.15" text-anchor="end" class="t">8</text>
<line x1="27.1" y1="673.5" x2="29.5" y2="673.5" stroke="#000" stroke-width="0.65"/>
<text x="24.3" y="676.15" text-anchor="end" class="t">10</text>
<line x1="27.1" y1="633.5" x2="29.5" y2="633.5" stroke="#000" stroke-width="0.65"/>
<text x="24.3" y="636.15" text-anchor="end" class="t">12</text>
<line x1="27.1" y1="593.5" x2="29.5" y2="593.5" stroke="#000" stroke-width="0.65"/>
<text x="24.3" y="596.15" text-anchor="end" class="t">14</text>
<line x1="27.1" y1="553.5" x2="29.5" y2="553.5" stroke="#000" stroke-width="0.65"/>
<text x="24.3" y="556.15" text-anchor="end" class="t">16</text>
<text x="178.85" y="516" text-anchor="middle" class="ti" textLength="96" lengthAdjust="spacingAndGlyphs">PDP with 95% CI - Water</text>
<text x="178.85" y="737.1" text-anchor="middle" class="al" textLength="18.7" lengthAdjust="spacingAndGlyphs">Water</text>
<text transform="translate(11.3,619.4) rotate(-90)" x="0" y="0" text-anchor="middle" class="al" textLength="28.3" lengthAdjust="spacingAndGlyphs">V-Funnel</text>
<rect x="277.2" y="523.2" width="47.4" height="21.6" rx="1.5" fill="#fff" fill-opacity="0.8" stroke="#d6d6d6" stroke-width="0.6"/>
<line x1="279.4" y1="528" x2="293.7" y2="528" stroke="#0000ff" stroke-width="1.05"/>
<text x="298.6" y="530.5" class="lg" textLength="12.5" lengthAdjust="spacingAndGlyphs">PDP</text>
<rect x="279.9" y="536" width="13.8" height="4.5" fill="#ccccff" stroke="#0000ff" stroke-opacity="0.2" stroke-width="0.6"/>
<text x="298.6" y="540.9" class="lg" textLength="23.5" lengthAdjust="spacingAndGlyphs">95% CI</text>
</g>
<g>
<path d="M401.6,635.8 L405.34,633.5 L409.08,634.3 L412.82,639.6 L416.56,634.8 L420.3,630.1 L424.04,612 L427.78,610.6 L431.52,590 L435.26,548.3 L439,569 L442.74,552.5 L446.48,563.5 L450.22,559.2 L453.96,559.8 L457.7,556.8 L461.44,553.8 L465.18,549.5 L468.92,541.6 L472.66,542.2 L472.66,620.6 L468.92,618.7 L465.18,614.9 L461.44,617.8 L457.7,618.7 L453.96,618.7 L450.22,617 L446.48,618.7 L442.74,616.8 L439,623.5 L435.26,631 L431.52,639.6 L427.78,646.2 L424.04,648.1 L420.3,673.7 L416.56,684.1 L412.82,690.7 L409.08,694.5 L405.34,690.7 L401.6,686.9 Z" fill="#ccccff" stroke="#0000ff" stroke-opacity="0.2" stroke-width="0.7"/>
<path d="M401.6,668 L405.34,669.3 L409.08,668.5 L412.82,672.7 L416.56,659.5 L420.3,649 L424.04,629.1 L427.78,625.4 L431.52,621 L435.26,611.1 L439,603 L442.74,594.7 L446.48,596.6 L450.22,591.8 L453.96,597.5 L457.7,597.3 L461.44,593.2 L465.18,585.2 L468.92,599.4 L472.66,594.1" fill="none" stroke="#0000ff" stroke-width="1.05" stroke-linejoin="round" stroke-linecap="square"/>
<rect x="395.8" y="708.1" width="56.6" height="10.2" fill="#000"/>
<rect x="444.55" y="708.1" width="0.5" height="10.2" fill="#666"/>
<rect x="450.95" y="708.1" width="0.5" height="10.2" fill="#666"/>
<rect x="453.5" y="708.1" width="1" height="10.2" fill="#1a1a1a"/>
<rect x="455" y="708.1" width="1" height="10.2" fill="#1a1a1a"/>
<rect x="456.6" y="708.1" width="1" height="10.2" fill="#1a1a1a"/>
<rect x="458.3" y="708.1" width="1" height="10.2" fill="#1a1a1a"/>
<rect x="460.1" y="708.1" width="1" height="10.2" fill="#1a1a1a"/>
<rect x="461.6" y="708.1" width="1" height="10.2" fill="#777"/>
<rect x="463.4" y="708.1" width="1" height="10.2" fill="#777"/>
<rect x="465.3" y="708.1" width="1" height="10.2" fill="#777"/>
<rect x="468.2" y="708.1" width="1" height="10.2" fill="#1a1a1a"/>
<rect x="469.7" y="708.1" width="1" height="10.2" fill="#1a1a1a"/>
<rect x="471.7" y="708.1" width="1" height="10.2" fill="#1a1a1a"/>
<rect x="473.2" y="708.1" width="1" height="10.2" fill="#777"/>
<rect x="475.8" y="708.1" width="1" height="10.2" fill="#1a1a1a"/>
<rect x="476.9" y="708.1" width="1" height="10.2" fill="#1a1a1a"/>
<rect x="479.1" y="708.1" width="1" height="10.2" fill="#1a1a1a"/>
<rect x="490.3" y="708.1" width="1" height="10.2" fill="#000"/>
<rect x="496.6" y="708.1" width="1.8" height="10.2" fill="#888"/>
<rect x="499.6" y="708.1" width="1" height="10.2" fill="#1a1a1a"/>
<rect x="501.4" y="708.1" width="1" height="10.2" fill="#1a1a1a"/>
<rect x="503.1" y="708.1" width="1" height="10.2" fill="#1a1a1a"/>
<rect x="505.5" y="708.1" width="1" height="10.2" fill="#1a1a1a"/>
<rect x="511.3" y="708.1" width="1" height="10.2" fill="#1a1a1a"/>
<rect x="513.1" y="708.1" width="1" height="10.2" fill="#1a1a1a"/>
<rect x="518.6" y="708.1" width="1" height="10.2" fill="#1a1a1a"/>
<rect x="521.7" y="708.1" width="1" height="10.2" fill="#1a1a1a"/>
<rect x="525.6" y="708.1" width="1" height="10.2" fill="#1a1a1a"/>
<rect x="527.4" y="708.1" width="1" height="10.2" fill="#1a1a1a"/>
<rect x="529.4" y="708.1" width="1" height="10.2" fill="#777"/>
<rect x="530.5" y="708.1" width="1" height="10.2" fill="#1a1a1a"/>
<rect x="533" y="708.1" width="1" height="10.2" fill="#1a1a1a"/>
<rect x="537.8" y="708.1" width="1.1" height="10.2" fill="#000"/>
<rect x="541.4" y="708.1" width="1" height="10.2" fill="#777"/>
<rect x="544.6" y="708.1" width="1" height="10.2" fill="#777"/>
<rect x="549" y="708.1" width="1" height="10.2" fill="#1a1a1a"/>
<rect x="552.1" y="708.1" width="1" height="10.2" fill="#777"/>
<rect x="554.8" y="708.1" width="1" height="10.2" fill="#1a1a1a"/>
<rect x="561" y="708.1" width="1" height="10.2" fill="#1a1a1a"/>
<rect x="564.5" y="708.1" width="1" height="10.2" fill="#777"/>
<rect x="569.4" y="708.1" width="1" height="10.2" fill="#777"/>
<rect x="577" y="708.1" width="1" height="10.2" fill="#777"/>
<rect x="578.1" y="708.1" width="1" height="10.2" fill="#777"/>
<rect x="581.7" y="708.1" width="1" height="10.2" fill="#1a1a1a"/>
<rect x="589" y="708.1" width="1" height="10.2" fill="#1a1a1a"/>
<rect x="593.5" y="708.1" width="0.9" height="10.2" fill="#222"/>
<rect x="597.1" y="708.1" width="1" height="10.2" fill="#777"/>
<rect x="601.8" y="708.1" width="1" height="10.2" fill="#1a1a1a"/>
<rect x="607" y="708.1" width="1" height="10.2" fill="#777"/>
<rect x="608.2" y="708.1" width="1" height="10.2" fill="#777"/>
<rect x="610.3" y="708.1" width="1" height="10.2" fill="#777"/>
<rect x="613.4" y="708.1" width="2.5" height="10.2" fill="#000"/>
<rect x="623.4" y="708.1" width="1" height="10.2" fill="#777"/>
<rect x="624.3" y="708.1" width="1" height="10.2" fill="#777"/>
<rect x="629.2" y="708.1" width="1" height="10.2" fill="#777"/>
<rect x="632.7" y="708.1" width="1" height="10.2" fill="#777"/>
<rect x="636.8" y="708.1" width="1" height="10.2" fill="#1a1a1a"/>
<rect x="652" y="708.1" width="1" height="10.2" fill="#1a1a1a"/>
<rect x="668.3" y="708.1" width="1" height="10.2" fill="#1a1a1a"/>
<rect x="382.5" y="518.5" width="300" height="199.8" fill="none" stroke="#000" stroke-width="0.55"/>
<line x1="394.4" y1="718.3" x2="394.4" y2="720.7" stroke="#000" stroke-width="0.65"/>
<text x="394.4" y="727.8" text-anchor="middle" class="t">0</text>
<line x1="437.17" y1="718.3" x2="437.17" y2="720.7" stroke="#000" stroke-width="0.65"/>
<text x="437.17" y="727.8" text-anchor="middle" class="t">2</text>
<line x1="479.93" y1="718.3" x2="479.93" y2="720.7" stroke="#000" stroke-width="0.65"/>
<text x="479.93" y="727.8" text-anchor="middle" class="t">4</text>
<line x1="522.7" y1="718.3" x2="522.7" y2="720.7" stroke="#000" stroke-width="0.65"/>
<text x="522.7" y="727.8" text-anchor="middle" class="t">6</text>
<line x1="565.47" y1="718.3" x2="565.47" y2="720.7" stroke="#000" stroke-width="0.65"/>
<text x="565.47" y="727.8" text-anchor="middle" class="t">8</text>
<line x1="608.23" y1="718.3" x2="608.23" y2="720.7" stroke="#000" stroke-width="0.65"/>
<text x="608.23" y="727.8" text-anchor="middle" class="t">10</text>
<line x1="651" y1="718.3" x2="651" y2="720.7" stroke="#000" stroke-width="0.65"/>
<text x="651" y="727.8" text-anchor="middle" class="t">12</text>
<line x1="380.1" y1="678.1" x2="382.5" y2="678.1" stroke="#000" stroke-width="0.65"/>
<text x="377.3" y="680.75" text-anchor="end" class="t">10</text>
<line x1="380.1" y1="635.37" x2="382.5" y2="635.37" stroke="#000" stroke-width="0.65"/>
<text x="377.3" y="638.02" text-anchor="end" class="t">11</text>
<line x1="380.1" y1="592.63" x2="382.5" y2="592.63" stroke="#000" stroke-width="0.65"/>
<text x="377.3" y="595.28" text-anchor="end" class="t">12</text>
<line x1="380.1" y1="549.9" x2="382.5" y2="549.9" stroke="#000" stroke-width="0.65"/>
<text x="377.3" y="552.55" text-anchor="end" class="t">13</text>
<text x="532.5" y="515.1" text-anchor="middle" class="ti" textLength="91.6" lengthAdjust="spacingAndGlyphs">PDP with 95% CI - Adm</text>
<text x="532.5" y="737.6" text-anchor="middle" class="al" textLength="14.2" lengthAdjust="spacingAndGlyphs">Adm</text>
<text transform="translate(363.9,619) rotate(-90)" x="0" y="0" text-anchor="middle" class="al" textLength="28.2" lengthAdjust="spacingAndGlyphs">V-Funnel</text>
<rect x="631.6" y="522.2" width="48" height="21.9" rx="1.5" fill="#fff" fill-opacity="0.8" stroke="#d6d6d6" stroke-width="0.6"/>
<line x1="633.9" y1="527" x2="647.9" y2="527" stroke="#0000ff" stroke-width="1.05"/>
<text x="653.3" y="529.5" class="lg" textLength="12.5" lengthAdjust="spacingAndGlyphs">PDP</text>
<rect x="634.2" y="535" width="13.7" height="4.8" fill="#ccccff" stroke="#0000ff" stroke-opacity="0.2" stroke-width="0.6"/>
<text x="653.3" y="540.2" class="lg" textLength="23" lengthAdjust="spacingAndGlyphs">95% CI</text>
</g>
</svg></div>
</body></html>
